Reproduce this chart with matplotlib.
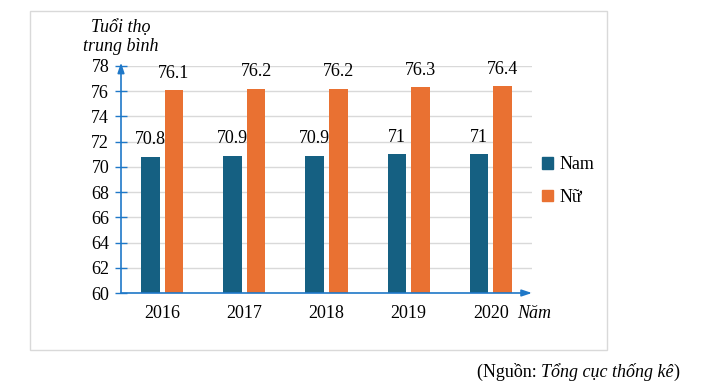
import matplotlib
matplotlib.use("Agg")
import matplotlib.pyplot as plt
from matplotlib.patches import Rectangle, Patch
import numpy as np

plt.rcParams['font.family'] = ['Liberation Serif', 'DejaVu Serif']

years = ["2016", "2017", "2018", "2019", "2020"]
nam = [70.8, 70.9, 70.9, 71, 71]
nu = [76.1, 76.2, 76.2, 76.3, 76.4]
yticks = [60, 62, 64, 66, 68, 70, 72, 74, 76, 78]

c_nam = "#156082"
c_nu = "#E97132"
c_axis = "#1F78C8"
fs = 13

W, H = 705, 384
fig = plt.figure(figsize=(W / 100, H / 100), dpi=100)
ax = fig.add_axes([121 / W, (H - 293) / H, (532 - 121) / W, (293 - 66) / H])

x = np.arange(len(years))
bw = 0.225
off = 0.143
b1 = ax.bar(x - off, nam, bw, color=c_nam, zorder=3, label="Nam")
b2 = ax.bar(x + off, nu, bw, color=c_nu, zorder=3, label="Nữ")
ax.bar_label(b1, labels=[f"{v:g}" for v in nam], padding=6, fontsize=fs)
ax.bar_label(b2, labels=[f"{v:g}" for v in nu], padding=6, fontsize=fs)

ax.set_xlim(-0.5, len(years) - 0.5)
ax.set_ylim(60, 78)
ax.set_yticks(yticks)
ax.set_xticks(x)
ax.set_xticklabels(years, fontsize=fs)
ax.tick_params(axis='x', length=0, pad=9)
ax.tick_params(axis='y', direction='inout', length=9, color=c_axis, width=1, labelsize=fs, pad=4)
for s in ax.spines.values():
    s.set_visible(False)
ax.grid(axis='y', color="#d9d9d9", lw=1, zorder=0)
ax.set_axisbelow(True)

# axes arrows
ax.annotate("", xy=(0, 1.015), xytext=(0, 0), xycoords='axes fraction',
            arrowprops=dict(arrowstyle='-|>,head_length=0.6,head_width=0.2', color=c_axis, lw=1.2,
                            shrinkA=0, shrinkB=0), zorder=5)
ax.annotate("", xy=(1.0, 0), xytext=(0, 0), xycoords='axes fraction',
            arrowprops=dict(arrowstyle='-|>,head_length=0.6,head_width=0.2', color=c_axis, lw=1.2,
                            shrinkA=0, shrinkB=0), zorder=5)

# axis titles
fig.text(121 / W, (H - 37) / H, "Tuổi thọ\ntrung bình", ha='center', va='center',
         fontsize=fs, style='italic', linespacing=1.2)
fig.text(517 / W, (H - 313) / H, "Năm", ha='left', va='center', fontsize=fs, style='italic')

# legend
handles = [Patch(color=c_nam, label="Nam"), Patch(color=c_nu, label="Nữ")]
fig.legend(handles=handles, loc='center left', bbox_to_anchor=(542 / W, (H - 181) / H),
           frameon=False, fontsize=fs, handlelength=0.6, handleheight=0.6,
           handletextpad=0.35, labelspacing=0.85, borderpad=0, borderaxespad=0)

# outer frame
fig.patches.append(Rectangle((30 / W, (H - 350) / H), (607 - 30) / W, (350 - 11) / H,
                             transform=fig.transFigure, fill=False, ec="#d9d9d9", lw=1))

# source note
t1 = fig.text(477 / W, (H - 372) / H, "(Nguồn: ", ha='left', va='center', fontsize=fs)
t2 = fig.text(0, 0, "Tổng cục thống kê", fontsize=fs, style='italic')
fig.canvas.draw()
r = fig.canvas.get_renderer()
bb = t1.get_window_extent(r)
t2.set_position((bb.x1 / W, (H - 372) / H))
t2.set_va('center')
fig.canvas.draw()
bb2 = t2.get_window_extent(r)
fig.text(bb2.x1 / W, (H - 372) / H, ")", ha='left', va='center', fontsize=fs)

fig.savefig("out.png", dpi=100)
